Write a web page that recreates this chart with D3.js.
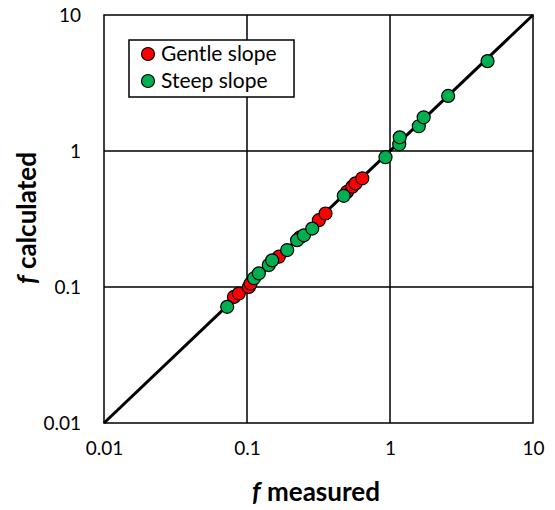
<!DOCTYPE html>
<html lang="en">
<head>
<meta charset="UTF-8">
<title>f calculated vs f measured</title>
<script src="https://d3js.org/d3.v7.min.js"></script>
<style>
  body { margin: 0; background: #fff; }
  text { font-family: Lato, "Open Sans", sans-serif; fill: #000; }
</style>
</head>
<body>
<div id="chart"></div>
<script>
// Datos
const gentleMeasured   = [0.081, 0.0877, 0.103, 0.106, 0.167, 0.235, 0.318, 0.354, 0.50, 0.545, 0.574, 0.64];
const gentleCalculated = [0.0845, 0.0895, 0.100, 0.106, 0.167, 0.232, 0.310, 0.347, 0.50, 0.546, 0.578, 0.63];

const steepMeasured   = [0.0727, 0.112, 0.121, 0.142, 0.150, 0.191, 0.224, 0.250, 0.286, 0.475, 0.93, 1.16, 1.17, 1.59, 1.72, 2.55, 4.81];
const steepCalculated = [0.0715, 0.116, 0.126, 0.145, 0.157, 0.187, 0.221, 0.240, 0.269, 0.468, 0.90, 1.12, 1.26, 1.52, 1.77, 2.54, 4.58];

const tickValues = [0.01, 0.1, 1, 10];
const tickLabels = ["0.01", "0.1", "1", "10"];
const seriesNames = ["Gentle slope", "Steep slope"];
const seriesColors = ["#ff0000", "#00b050"];

const width = 555, height = 510;
const margin = {top: 15, right: 22, bottom: 87, left: 104};
const innerW = width - margin.left - margin.right;
const innerH = height - margin.top - margin.bottom;

const svg = d3.select("#chart").append("svg")
    .attr("width", width)
    .attr("height", height);

const g = svg.append("g")
    .attr("transform", `translate(${margin.left},${margin.top})`);

const x = d3.scaleLog().domain([0.01, 10]).range([0, innerW]);
const y = d3.scaleLog().domain([0.01, 10]).range([innerH, 0]);

// Rejilla en las décadas
g.selectAll(".gx").data(tickValues.slice(1, 3)).enter().append("line")
    .attr("x1", d => x(d)).attr("x2", d => x(d))
    .attr("y1", 0).attr("y2", innerH)
    .attr("stroke", "#000").attr("stroke-width", 1.5);
g.selectAll(".gy").data(tickValues.slice(1, 3)).enter().append("line")
    .attr("y1", d => y(d)).attr("y2", d => y(d))
    .attr("x1", 0).attr("x2", innerW)
    .attr("stroke", "#000").attr("stroke-width", 1.5);

// Marco
g.append("rect")
    .attr("width", innerW).attr("height", innerH)
    .attr("fill", "none").attr("stroke", "#000").attr("stroke-width", 1.5);

// Ejes (solo etiquetas)
const xAxis = g.append("g")
    .attr("transform", `translate(0,${innerH})`)
    .call(d3.axisBottom(x).tickValues(tickValues).tickFormat((d, i) => tickLabels[i]).tickSize(0).tickPadding(19));
const yAxis = g.append("g")
    .call(d3.axisLeft(y).tickValues(tickValues).tickFormat((d, i) => tickLabels[i]).tickSize(0).tickPadding(23));
[xAxis, yAxis].forEach(a => {
    a.select(".domain").remove();
    a.selectAll("text").style("font-size", "19px").style("font-family", "Lato, 'Open Sans', sans-serif");
});

// Línea 1:1
g.append("line")
    .attr("x1", x(0.01)).attr("y1", y(0.01))
    .attr("x2", x(10)).attr("y2", y(10))
    .attr("stroke", "#000").attr("stroke-width", 3);

// Puntos
const gentle = gentleMeasured.map((m, i) => ({m, c: gentleCalculated[i]}));
const steep = steepMeasured.map((m, i) => ({m, c: steepCalculated[i]}));

[gentle, steep].forEach((data, k) => {
    g.append("g").selectAll("circle").data(data).enter().append("circle")
        .attr("cx", d => x(d.m))
        .attr("cy", d => y(d.c))
        .attr("r", 6.5)
        .attr("fill", seriesColors[k])
        .attr("stroke", "#000")
        .attr("stroke-width", 1.2);
});

// Leyenda
const legend = svg.append("g").attr("transform", "translate(129,40)");
legend.append("rect")
    .attr("width", 165).attr("height", 57)
    .attr("fill", "#fff").attr("stroke", "#000").attr("stroke-width", 1.5);
seriesNames.forEach((name, i) => {
    legend.append("circle")
        .attr("cx", 19).attr("cy", 14 + i * 27)
        .attr("r", 6.5)
        .attr("fill", seriesColors[i])
        .attr("stroke", "#000").attr("stroke-width", 1.2);
    legend.append("text")
        .attr("x", 32).attr("y", 14 + i * 27)
        .attr("dy", "0.35em")
        .style("font-size", "21px")
        .text(name);
});

// Títulos de los ejes
const xt = svg.append("text")
    .attr("x", 316)
    .attr("y", 501)
    .attr("text-anchor", "middle")
    .style("font-size", "26px")
    .style("font-weight", "bold");
xt.append("tspan").style("font-style", "italic").text("f");
xt.append("tspan").text(" measured");

const yt = svg.append("text")
    .attr("transform", `translate(36,218) rotate(-90)`)
    .attr("text-anchor", "middle")
    .style("font-size", "26px")
    .style("font-weight", "bold");
yt.append("tspan").style("font-style", "italic").text("f");
yt.append("tspan").text(" calculated");
</script>
</body>
</html>
